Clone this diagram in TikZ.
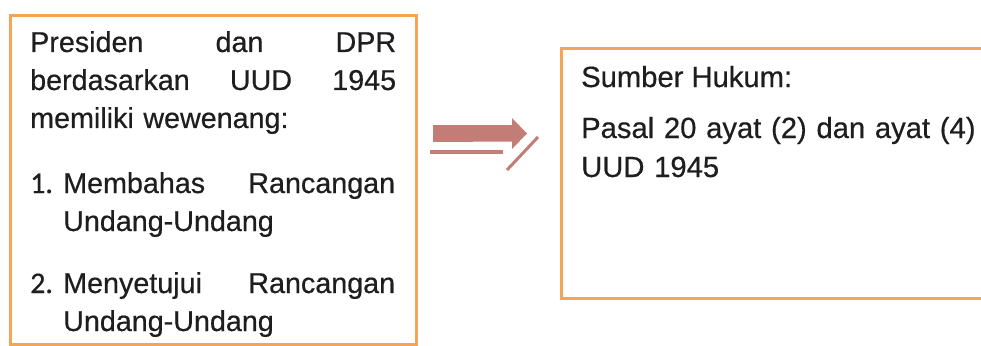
\documentclass[tikz,border=0pt]{standalone}
\usepackage{fontspec}
\setmainfont{Liberation Sans}[RawFeature={embolden=0.5}]
\newfontfamily\nomorfont{Carlito}[RawFeature={embolden=0.5}]
\usepackage{tikz}
\usetikzlibrary{positioning}
\definecolor{oranye}{RGB}{245,163,84}
\definecolor{panah}{RGB}{194,126,118}
\definecolor{teks}{RGB}{30,30,30}
\newcommand{\isi}{\fontsize{28.7}{38}\selectfont}
\newcommand{\isikanan}{\fontsize{29.2}{39}\selectfont}
\tikzset{
  kotak/.style={draw=oranye,line width=3pt,inner sep=0pt},
  tulisan/.style={inner sep=0pt,anchor=base west,align=left,text=teks,font=\isi}
}

\begin{document}
\begin{tikzpicture}[x=1pt,y=1pt]
    \useasboundingbox (0,0) rectangle (981,-345);
    \clip (0,0) rectangle (981,-345);
    \fill[white] (0,0) rectangle (981,-345);
    \node[kotak,anchor=north west,minimum width=406pt,minimum height=329pt] (wewenang) at (9,-14) {};
    \node[kotak,anchor=north west,minimum width=440pt,minimum height=250pt] (sumber) at (560,-47) {};
    \node[tulisan,text width=366pt] (pembuka) at ([xshift=21pt,yshift=-38pt]wewenang.north west)
      {Presiden\hfill dan\hfill DPR\\berdasarkan\hfill UUD\hfill 1945\\memiliki wewenang:};
    \node[tulisan] (no1) at ([yshift=-141pt]pembuka.base west) {\nomorfont\fontsize{30}{38}\selectfont 1.};
    \node[tulisan,text width=332pt] (poin1) at ([xshift=33pt]no1.base west)
      {Membahas\hfill Rancangan\\Undang-Undang};
    \node[tulisan] (no2) at ([yshift=-100pt]no1.base west) {\nomorfont\fontsize{30}{38}\selectfont 2.};
    \node[tulisan,text width=332pt] (poin2) at ([xshift=33pt]no2.base west)
      {Menyetujui\hfill Rancangan\\Undang-Undang};
    \node[tulisan,font=\isikanan] (judul) at ([xshift=21pt,yshift=-40pt]sumber.north west) {Sumber Hukum:};
    \node[tulisan,font=\isikanan,text width=400pt] (pasal) at ([yshift=-51pt]judul.base west)
      {Pasal 20 ayat (2) dan ayat (4)\\UUD 1945};
    \coordinate (ekor) at (433,-133.5);
    \fill[panah] ([yshift=8.5pt]ekor) -- ++(79,0) -- ++(0,7) -- (527,-133.5) -- (512,-149)
      -- ++(0,7.5) -- ([yshift=-8.5pt]ekor) -- cycle;
    \draw[panah,line width=3.5pt] (430,-152) -- (503,-152);
    \draw[panah,line width=3pt] (507,-170) -- (538,-137);
\end{tikzpicture}
\end{document}
